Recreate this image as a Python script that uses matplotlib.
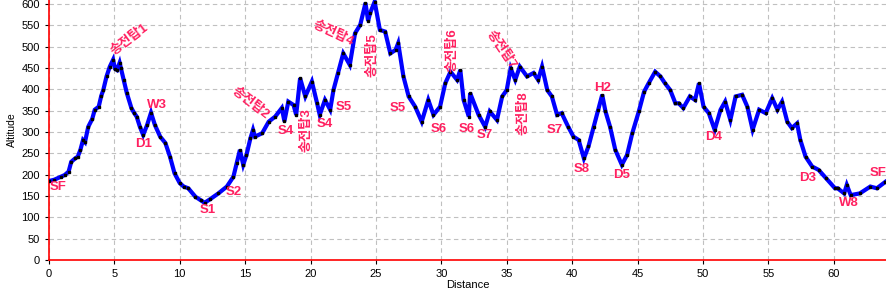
import matplotlib.pyplot as plt

# profile
dist = [0.0, 0.4, 0.9, 1.2, 1.5, 1.7, 2.0, 2.2, 2.4, 2.6, 2.75, 3.0, 3.3, 3.5, 3.8, 4.0,
        4.15, 4.4, 4.65, 4.9, 5.05, 5.2, 5.4, 5.5, 5.7, 5.95, 6.3, 6.5, 6.7, 6.95, 7.2,
        7.5, 7.8, 8.1, 8.5, 8.9, 9.25, 9.6, 10.0, 10.3, 10.65, 11.2, 11.6, 11.9, 12.3,
        12.95, 13.6, 14.1, 14.35, 14.6, 14.85, 15.1, 15.4, 15.6, 15.75, 16.3, 16.8, 17.3,
        17.8, 18.0, 18.3, 18.7, 18.9, 19.2, 19.6, 20.1, 20.5, 20.7, 21.1, 21.5, 21.75,
        22.1, 22.5, 23.0, 23.4, 23.8, 24.2, 24.4, 24.55, 24.9, 25.3, 25.7, 26.1, 26.5,
        26.7, 27.1, 27.5, 28.0, 28.5, 29.0, 29.4, 29.9, 30.3, 30.7, 31.2, 31.45, 31.7,
        32.1, 32.2, 32.85, 33.35, 33.7, 34.25, 34.65, 35.0, 35.3, 35.65, 36.0, 36.55,
        37.05, 37.4, 37.7, 38.1, 38.45, 38.85, 39.2, 39.7, 40.1, 40.5, 40.9, 41.25, 41.65,
        42.0, 42.3, 42.55, 42.9, 43.3, 43.8, 44.2, 44.6, 45.1, 45.5, 45.85, 46.35, 46.75,
        47.1, 47.5, 47.9, 48.15, 48.5, 49.0, 49.4, 49.7, 50.05, 50.45, 50.9, 51.35, 51.7,
        52.1, 52.5, 53.0, 53.4, 53.8, 54.3, 54.8, 55.3, 55.7, 56.05, 56.45, 56.8, 57.2,
        57.45, 57.85, 58.35, 58.85, 59.4, 60.1, 60.3, 60.8, 61.0, 61.3, 62.0, 62.8, 63.3,
        63.95]
alt = [185, 188, 195, 199, 207, 230, 238, 242, 258, 281, 276, 312, 330, 352, 359, 385,
       398, 430, 453, 469, 448, 445, 462, 449, 422, 391, 356, 345, 336, 312, 293,
       316, 345, 316, 289, 274, 242, 203, 180, 172, 168, 148, 140, 134, 142,
       156, 172, 195, 227, 258, 223, 246, 285, 305, 289, 297, 324, 336,
       356, 325, 371, 363, 340, 426, 383, 418, 367, 340, 375, 352, 398,
       438, 484, 457, 531, 551, 602, 560, 578, 605, 539, 535, 484, 492,
       508, 430, 383, 359, 324, 375, 340, 359, 414, 441, 422, 445, 375,
       336, 391, 340, 312, 348, 328, 383, 398, 449, 422, 453, 430,
       438, 422, 453, 398, 383, 340, 344, 312, 289, 281, 238, 266, 312,
       352, 387, 348, 312, 258, 223, 246, 297, 348, 394, 414, 441, 430,
       414, 398, 367, 367, 356, 383, 375, 414, 359, 344, 305, 352, 371,
       328, 383, 387, 359, 305, 352, 344, 379, 352, 371, 324, 309, 320,
       281, 242, 219, 211, 192, 168, 168, 156, 176, 152, 156, 172, 168,
       183]

# waypoint labels: text, x, y, rotation
lab_text = ['SF', '송전탑1', 'W3', 'D1', 'S1', 'S2', '송전탑2', 'S4', '송전탑3', 'S4',
            'S5', '송전탑4', '송전탑5', 'S5', 'S6', '송전탑6', 'S6', 'S7', '송전탑7',
            '송전탑8', 'S7', 'S8', 'H2', 'D5', 'D4', 'D3', 'W8', 'SF']
lab_x = [0.7, 6.16, 8.24, 7.2, 12.1, 14.1, 15.4, 18.13, 19.7, 21.1,
         22.5, 21.75, 24.7, 26.7, 29.8, 30.86, 31.95, 33.35, 34.6,
         36.3, 38.7, 40.75, 42.3, 43.8, 50.8, 57.97, 61.15, 63.4]
lab_y = [172, 516, 362, 272, 117, 160, 368, 303, 305, 319,
         358, 531, 480, 356, 306, 492, 306, 293, 492,
         344, 305, 213, 404, 199, 289, 192, 133, 203]
lab_rot = [0, 37, 0, 0, 0, 0, -38, 0, 90, 0,
           0, -25, 90, 0, 0, 90, 0, 0, -56,
           90, 0, 0, 0, 0, 0, 0, 0, 0]

plt.rcParams['font.family'] = ['Liberation Sans', 'Noto Sans CJK KR', 'DejaVu Sans']

fig = plt.figure(figsize=(8.86, 2.93), dpi=100)
ax = fig.add_axes([49 / 886, 33 / 293, 1 - 49 / 886, 1 - 33 / 293])

ax.plot(dist, alt, color='#0000ff', lw=3, solid_joinstyle='miter', zorder=3)
ax.plot(dist, alt, color='black', lw=0.5, marker='s', ms=1.5, ls='none', zorder=4)

for t, x, y, r in zip(lab_text, lab_x, lab_y, lab_rot):
    ax.text(x, y, t, color='#ff2060', fontsize=9.5, fontweight='bold', rotation=r,
            ha='center', va='center', rotation_mode='anchor', zorder=5)

ax.set_xlim(0, 64)
ax.set_ylim(0, 609)
ax.set_xticks(range(0, 65, 5))
ax.set_yticks(range(0, 601, 50))
ax.tick_params(labelsize=8, length=3, color='black')
ax.grid(True, color='#c0c0c0', ls=(0, (4, 3)), lw=0.8)
ax.set_axisbelow(True)
for s in ['top', 'right']:
    ax.spines[s].set_visible(False)
for s in ['left', 'bottom']:
    ax.spines[s].set_color('#ff0000')
    ax.spines[s].set_linewidth(1.2)
ax.set_xlabel('Distance', fontsize=8, labelpad=1)
ax.set_ylabel('Altitude', fontsize=7.5, labelpad=3)

fig.savefig('out.png', dpi=100)
